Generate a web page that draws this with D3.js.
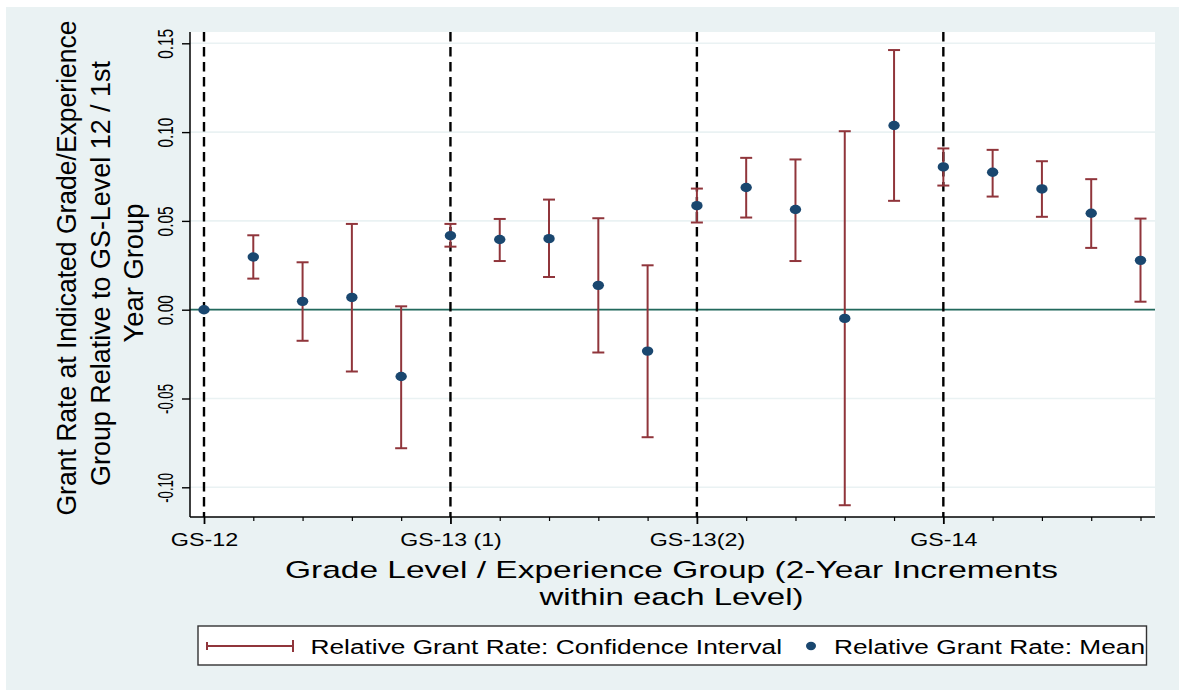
<!DOCTYPE html>
<html>
<head>
<meta charset="utf-8">
<script src="https://cdn.jsdelivr.net/npm/d3@7"></script>
<style>
  html, body { margin: 0; padding: 0; background: #ffffff; }
  svg { display: block; }
  text { font-family: "Liberation Sans", Arial, Helvetica, sans-serif; fill: #000; }
</style>
</head>
<body>
<svg id="chart" width="1179" height="690"></svg>
<script>
// ---------------- data ----------------
const categories = d3.range(20); // 2-year experience groups, 0..19
const tickLabels = ["GS-12", "", "", "", "", "GS-13 (1)", "", "", "", "", "GS-13(2)", "", "", "", "", "GS-14", "", "", "", ""];
const gradeBreaks = [0, 5, 10, 15];
const meanValues = [0, 0.0297, 0.0047, 0.0069, -0.0376, 0.0417, 0.0395, 0.0400, 0.0137, -0.0233,
                    0.0586, 0.0688, 0.0564, -0.0049, 0.1037, 0.0804, 0.0774, 0.0680, 0.0543, 0.0278];
const ciLower = [null, 0.0175, -0.0175, -0.0348, -0.0780, 0.0355, 0.0274, 0.0184, -0.0241, -0.0718,
                 0.0491, 0.0519, 0.0274, -0.1101, 0.0613, 0.0699, 0.0637, 0.0523, 0.0348, 0.0045];
const ciUpper = [null, 0.0419, 0.0267, 0.0483, 0.0019, 0.0483, 0.0511, 0.0620, 0.0515, 0.0250,
                 0.0682, 0.0855, 0.0846, 0.1005, 0.1462, 0.0908, 0.0900, 0.0836, 0.0735, 0.0513];
const yTickValues = [-0.10, -0.05, 0.00, 0.05, 0.10, 0.15];
const yTickLabels = ["-0.10", "-0.05", "0.00", "0.05", "0.10", "0.15"];
const yTitleLines = ["Grant Rate at Indicated Grade/Experience", "Group Relative to GS-Level 12 / 1st", "Year Group"];
const xTitleLines = ["Grade Level / Experience Group (2-Year Increments", "within each Level)"];
const legendLabels = ["Relative Grant Rate: Confidence Interval", "Relative Grant Rate: Mean"];

// ---------------- layout / style ----------------
const W = 1179, H = 690;
const plot = { left: 190, right: 1155, top: 32, bottom: 517 };
const COL = {
  bg: "#eaf2f3", grid: "#eaf2f3", ci: "#90353b", mean: "#1a476f", zero: "#22695c", axis: "#000"
};
const svg = d3.select("#chart");

const x = d3.scaleLinear().domain([0, 19]).range([204, 1140.5]);
const y = d3.scaleLinear().domain([-0.10, 0.15]).range([487.3, 43.3]);

// outer background
svg.append("rect").attr("x", 0).attr("y", 0).attr("width", W).attr("height", H).attr("fill", "#fff");
svg.append("rect").attr("x", 6).attr("y", 7).attr("width", W - 6).attr("height", H - 7).attr("fill", COL.bg);
// plot region
svg.append("rect").attr("x", plot.left).attr("y", plot.top)
  .attr("width", plot.right - plot.left).attr("height", plot.bottom - plot.top).attr("fill", "#fff");

// gridlines
svg.append("g").selectAll("line").data(yTickValues).join("line")
  .attr("x1", plot.left).attr("x2", plot.right)
  .attr("y1", d => y(d)).attr("y2", d => y(d))
  .attr("stroke", COL.grid).attr("stroke-width", 1.6);

// zero line
svg.append("line").attr("x1", plot.left).attr("x2", plot.right)
  .attr("y1", y(0)).attr("y2", y(0)).attr("stroke", COL.zero).attr("stroke-width", 1.8);

// dashed grade separators
svg.append("g").selectAll("line").data(gradeBreaks).join("line")
  .attr("x1", d => x(d)).attr("x2", d => x(d))
  .attr("y1", plot.top).attr("y2", plot.bottom)
  .attr("stroke", "#000").attr("stroke-width", 2.4).attr("stroke-dasharray", "9.5,5.5");

// y axis
const yAxis = d3.axisLeft(y).tickValues(yTickValues).tickSize(8).tickSizeOuter(0)
  .tickFormat((d, i) => yTickLabels[i]);
const gy = svg.append("g").attr("transform", `translate(${plot.left},0)`).call(yAxis);
gy.select(".domain").remove();
gy.selectAll(".tick line").attr("stroke", COL.axis).attr("stroke-width", 1.4);
gy.selectAll(".tick text")
  .attr("x", null).attr("dy", null).attr("y", null)
  .attr("transform", "translate(-17,0) rotate(-90)")
  .attr("text-anchor", "middle")
  .attr("font-size", 22)
  .attr("textLength", 30).attr("lengthAdjust", "spacingAndGlyphs")
  .attr("font-family", "Liberation Sans, Arial, sans-serif")
  .attr("fill", "#000");
svg.append("line").attr("x1", plot.left).attr("x2", plot.left)
  .attr("y1", plot.top).attr("y2", plot.bottom).attr("stroke", COL.axis).attr("stroke-width", 1.5);

// x axis
const xAxis = d3.axisBottom(x).tickValues(categories).tickSizeOuter(0)
  .tickFormat((d, i) => tickLabels[i]);
const gx = svg.append("g").attr("transform", `translate(0,${plot.bottom})`).call(xAxis);
gx.select(".domain").remove();
gx.selectAll(".tick line")
  .attr("y2", d => gradeBreaks.includes(d) ? 7 : 4)
  .attr("stroke", COL.axis).attr("stroke-width", d => gradeBreaks.includes(d) ? 1.8 : 1.2);
const xLabelWidths = { "GS-12": 67.5, "GS-13 (1)": 101.5, "GS-13(2)": 95.5, "GS-14": 67 };
gx.selectAll(".tick text")
  .attr("y", 29).attr("dy", null)
  .attr("font-size", 18)
  .attr("font-family", "Liberation Sans, Arial, sans-serif")
  .attr("fill", "#000")
  .each(function (d, i) {
    const t = tickLabels[i];
    if (t) d3.select(this).attr("textLength", xLabelWidths[t]).attr("lengthAdjust", "spacingAndGlyphs");
  });
svg.append("line").attr("x1", plot.left).attr("x2", plot.right)
  .attr("y1", plot.bottom).attr("y2", plot.bottom).attr("stroke", COL.axis).attr("stroke-width", 1.5);

// confidence intervals
const ciData = categories.map(i => ({ i, lo: ciLower[i], hi: ciUpper[i] })).filter(d => d.lo !== null);
const capHalf = 6;
const gci = svg.append("g").attr("stroke", COL.ci).attr("stroke-width", 2).attr("fill", "none");
gci.selectAll("line.v").data(ciData).join("line").attr("class", "v")
  .attr("x1", d => x(d.i)).attr("x2", d => x(d.i))
  .attr("y1", d => y(d.lo)).attr("y2", d => y(d.hi));
gci.selectAll("line.t").data(ciData).join("line").attr("class", "t")
  .attr("x1", d => x(d.i) - capHalf).attr("x2", d => x(d.i) + capHalf)
  .attr("y1", d => y(d.hi)).attr("y2", d => y(d.hi));
gci.selectAll("line.b").data(ciData).join("line").attr("class", "b")
  .attr("x1", d => x(d.i) - capHalf).attr("x2", d => x(d.i) + capHalf)
  .attr("y1", d => y(d.lo)).attr("y2", d => y(d.lo));

// means
svg.append("g").selectAll("ellipse").data(categories).join("ellipse")
  .attr("cx", i => x(i)).attr("cy", i => y(meanValues[i]))
  .attr("rx", 5.7).attr("ry", 4.7).attr("fill", COL.mean);

// y title (rotated)
const yTitle = [
  { x: 76, cy: 268, len: 495 },
  { x: 110, cy: 273.5, len: 425 },
  { x: 143, cy: 273, len: 139 }
];
yTitleLines.forEach((t, k) => {
  svg.append("text")
    .attr("transform", `translate(${yTitle[k].x},${yTitle[k].cy}) rotate(-90)`)
    .attr("text-anchor", "middle").attr("font-size", 27)
    .attr("textLength", yTitle[k].len).attr("lengthAdjust", "spacingAndGlyphs")
    .text(t);
});

// x title
const xTitle = [{ y: 577.5, len: 773 }, { y: 605, len: 264 }];
xTitleLines.forEach((t, k) => {
  svg.append("text")
    .attr("x", 671.5).attr("y", xTitle[k].y)
    .attr("text-anchor", "middle").attr("font-size", 24.5)
    .attr("textLength", xTitle[k].len).attr("lengthAdjust", "spacingAndGlyphs")
    .text(t);
});

// legend
const lg = svg.append("g");
lg.append("rect").attr("x", 198).attr("y", 626).attr("width", 948.5).attr("height", 39)
  .attr("fill", "#fff").attr("stroke", "#333").attr("stroke-width", 1.4);
const ly = 646;
lg.append("line").attr("x1", 207).attr("x2", 293).attr("y1", ly).attr("y2", ly)
  .attr("stroke", COL.ci).attr("stroke-width", 2);
lg.append("line").attr("x1", 207).attr("x2", 207).attr("y1", ly - 4).attr("y2", ly + 4)
  .attr("stroke", COL.ci).attr("stroke-width", 2);
lg.append("line").attr("x1", 293).attr("x2", 293).attr("y1", ly - 6).attr("y2", ly + 6)
  .attr("stroke", COL.ci).attr("stroke-width", 2);
lg.append("text").attr("x", 310.5).attr("y", 653.5).attr("font-size", 20)
  .attr("textLength", 471.5).attr("lengthAdjust", "spacingAndGlyphs").text(legendLabels[0]);
lg.append("ellipse").attr("cx", 811).attr("cy", ly).attr("rx", 5).attr("ry", 4.2).attr("fill", COL.mean);
lg.append("text").attr("x", 834).attr("y", 653.5).attr("font-size", 20)
  .attr("textLength", 311).attr("lengthAdjust", "spacingAndGlyphs").text(legendLabels[1]);
</script>
</body>
</html>
